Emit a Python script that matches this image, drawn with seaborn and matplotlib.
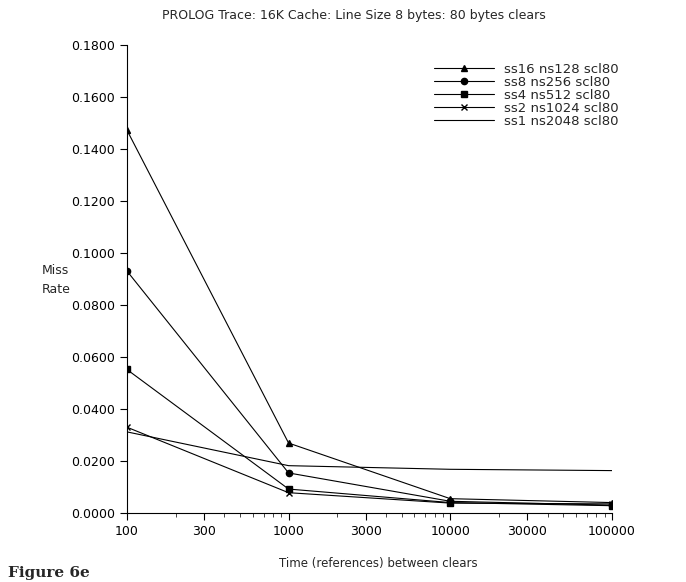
import numpy as np
import pandas as pd
import matplotlib
matplotlib.use("Agg")
import matplotlib.pyplot as plt
import seaborn as sns
from matplotlib.ticker import FixedLocator, FixedFormatter, LogLocator, NullFormatter, MultipleLocator

# Data
clear_interval = [100, 1000, 10000, 100000]
series_names = ["ss16 ns128 scl80", "ss8 ns256 scl80", "ss4 ns512 scl80",
                "ss2 ns1024 scl80", "ss1 ns2048 scl80"]
ss16 = [0.1473, 0.0269, 0.0055, 0.0040]
ss8 = [0.0931, 0.0154, 0.0045, 0.0030]
ss4 = [0.0552, 0.0092, 0.0040, 0.0028]
ss2 = [0.0330, 0.0078, 0.0038, 0.0035]
ss1 = [0.0312, 0.0182, 0.0168, 0.0163]
x_ticks = [100, 300, 1000, 3000, 10000, 30000, 100000]

markers = {"ss16 ns128 scl80": "^", "ss8 ns256 scl80": "o", "ss4 ns512 scl80": "s",
           "ss2 ns1024 scl80": "x", "ss1 ns2048 scl80": ""}

rows = []
for name, vals in zip(series_names, [ss16, ss8, ss4, ss2, ss1]):
    for x, y in zip(clear_interval, vals):
        rows.append({"interval": x, "miss": y, "series": name})
df = pd.DataFrame(rows)

sns.set_style("white")
plt.rcParams["font.family"] = ["DejaVu Sans"]

fig = plt.figure(figsize=(6.86, 5.82), dpi=100)
ax = fig.add_axes([0.185, 0.1186, 0.707, 0.804])

for name in series_names:
    sub = df[df["series"] == name]
    sns.lineplot(data=sub, x="interval", y="miss", ax=ax, color="black", linewidth=0.8,
                 marker=markers[name] if markers[name] else None, markersize=4.5,
                 markeredgewidth=1.0, markeredgecolor="black", label=name)

ax.set_xscale("log")
ax.set_xlim(100, 100000)
ax.set_ylim(0, 0.18)
ax.xaxis.set_major_locator(FixedLocator(x_ticks))
ax.xaxis.set_major_formatter(FixedFormatter([str(t) for t in x_ticks]))
ax.xaxis.set_minor_locator(LogLocator(base=10, subs=np.arange(2, 10)))
ax.xaxis.set_minor_formatter(NullFormatter())
ax.yaxis.set_major_locator(MultipleLocator(0.02))
ax.yaxis.set_major_formatter(matplotlib.ticker.FormatStrFormatter("%.4f"))

ax.tick_params(axis="both", which="major", direction="out", length=5, width=0.8,
               labelsize=9, colors="black", left=True, bottom=True)
ax.tick_params(axis="x", which="minor", direction="out", length=3, width=0.6, bottom=True)
for side in ["top", "right"]:
    ax.spines[side].set_visible(False)
for side in ["left", "bottom"]:
    ax.spines[side].set_color("black")
    ax.spines[side].set_linewidth(0.8)

ax.set_xlabel("")
ax.set_ylabel("")
fig.text(354 / 686, 1 - 15 / 582, "PROLOG Trace: 16K Cache: Line Size 8 bytes: 80 bytes clears",
         ha="center", va="center", fontsize=9)
fig.text(378 / 686, 1 - 563 / 582, "Time (references) between clears",
         ha="center", va="center", fontsize=8.5)
fig.text(42 / 686, 1 - 280 / 582, "Miss\nRate", ha="left", va="center",
         fontsize=9, linespacing=1.6)
fig.text(8 / 686, 2 / 582, "Figure 6e", ha="left", va="bottom",
         fontsize=11, fontweight="bold", family="serif")

ax.legend(loc="upper left", bbox_to_anchor=(427 / 686, 1 - 56 / 582),
          bbox_transform=fig.transFigure, frameon=False, fontsize=9.5,
          handlelength=4.6, handletextpad=0.7, labelspacing=0.0, borderpad=0)

fig.savefig("out.png", dpi=100)
